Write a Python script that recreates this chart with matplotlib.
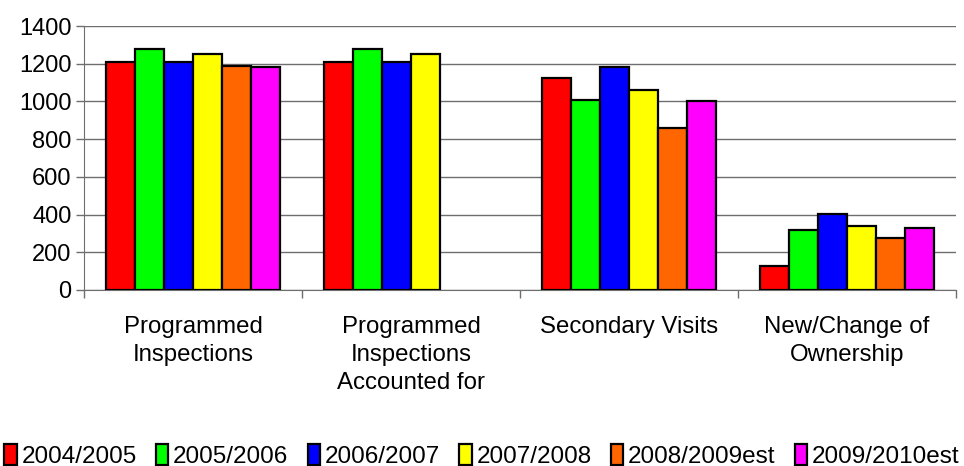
import matplotlib
matplotlib.use("Agg")
import matplotlib.pyplot as plt
import numpy as np

plt.rcParams['font.family'] = ['Liberation Sans', 'DejaVu Sans']

categories = ["Programmed\nInspections",
              "Programmed\nInspections\nAccounted for",
              "Secondary Visits",
              "New/Change of\nOwnership"]
years = ["2004/2005", "2005/2006", "2006/2007", "2007/2008",
         "2008/2009est", "2009/2010est"]
colors = ["#ff0000", "#00ff00", "#0000ff", "#ffff00", "#ff6600", "#ff00ff"]

v2004 = [1210, 1210, 1125, 127]
v2005 = [1280, 1280, 1010, 318]
v2006 = [1210, 1210, 1180, 405]
v2007 = [1250, 1250, 1060, 339]
v2008 = [1190, np.nan, 860, 277]
v2009 = [1180, np.nan, 1000, 329]
series = [v2004, v2005, v2006, v2007, v2008, v2009]

fig = plt.figure(figsize=(9.64, 4.66), dpi=100)
ax = fig.add_axes([0.0871, 0.3777, 0.9046, 0.5665])

x = np.arange(len(categories))
w = 0.8 / 6
for i, (vals, c, lab) in enumerate(zip(series, colors, years)):
    ax.bar(x + (i - 2.5) * w, vals, w, color=c, edgecolor='black',
           linewidth=1.6, label=lab, zorder=3)

ax.set_xlim(-0.5, 3.5)
ax.set_ylim(0, 1400)
ax.set_yticks(range(0, 1401, 200))
ax.yaxis.grid(True, color='#6e6e6e', linewidth=1, zorder=0)

# ticks at category borders, labels at centres
ax.set_xticks(np.arange(-0.5, 4, 1))
ax.set_xticklabels([])
ax.set_xticks(x, minor=True)
ax.set_xticklabels(categories, minor=True, fontsize=17.3, linespacing=1.35)
ax.tick_params(axis='x', which='minor', length=0, pad=19)
ax.tick_params(axis='x', which='major', length=6, color='#6e6e6e', width=1)
ax.tick_params(axis='y', length=6, color='#6e6e6e', width=1, labelsize=17, pad=3)

for s in ['top', 'right']:
    ax.spines[s].set_visible(False)
for s in ['left', 'bottom']:
    ax.spines[s].set_color('#6e6e6e')

leg = fig.legend(loc='center', bbox_to_anchor=(0.5, 0.022), ncol=6,
                 frameon=False, handlelength=0.5, handleheight=1.0,
                 handletextpad=0.2, columnspacing=0.8, borderaxespad=0,
                 prop={'family': ['Liberation Sans Narrow', 'Liberation Sans'],
                       'size': 17.5})

fig.savefig("out.png", dpi=100)
